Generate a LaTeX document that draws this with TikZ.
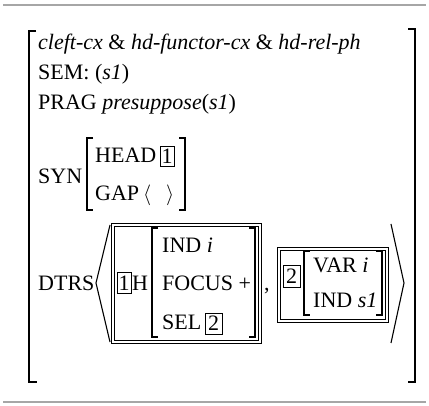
\documentclass[tikz,border=0pt]{standalone}
\usepackage{fontspec}
\setmainfont{Liberation Serif}
\tikzset{
  lbl/.style={anchor=base west, inner sep=0pt, font=\fontsize{22}{26}\selectfont},
  tagnum/.style={inner sep=0pt, font=\fontsize{22}{26}\selectfont},
  brk/.style={line width=1.1pt},
  rule/.style={line width=1.4pt, gray!70}
}
\begin{document}
\begin{tikzpicture}[x=1pt,y=-1pt]
\useasboundingbox (0,0) rectangle (429,406);
\draw[rule] (3,5) -- (426,5);
\draw[rule] (3,402) -- (426,402);
% outer brackets
\draw[brk] (36,31) -- (29,31) -- (29,382) -- (37,382);
\draw[brk] (408,29) -- (415,29) -- (415,382) -- (408,382);
\node[lbl] (type) at (38,50) {\textit{cleft-cx} \& \textit{hd-functor-cx} \& \textit{hd-rel-ph}};
\node[lbl] (sem) at (38,80) {SEM: (\textit{s1})};
\node[lbl] (prag) at (38,110) {PRAG \textit{presuppose}(\textit{s1})};
% SYN
\node[lbl] (syn) at (38,184) {SYN};
\draw[brk] (93,138) -- (87,138) -- (87,210) -- (93,210);
\draw[brk] (179,138) -- (185,138) -- (185,210) -- (179,210);
\node[lbl] (head) at (95,163) {HEAD};
\draw[line width=0.9pt] (160,146) rectangle (174,166);
\node[tagnum] (headtag) at (167,156) {1};
\node[lbl] (gap) at (95,201) {GAP};
\node[lbl] (gapl) at (143,201) {$\langle$};
\node[lbl] (gapr) at (166,201) {$\rangle$};
% DTRS
\node[lbl] (dtrs) at (38,291) {DTRS};
\draw[brk] (110,225) -- (96,283) -- (110,342);
\draw[brk] (391,224) -- (404,283) -- (391,343);
% first daughter
\draw[line width=0.9pt] (111,223) rectangle (261,343);
\draw[line width=0.9pt] (114,226) rectangle (258,340);
\draw[line width=0.9pt] (117,272) rectangle (131,293);
\node[tagnum] (dtagone) at (124,283) {1};
\node[lbl] (hd) at (132,291) {H};
\draw[brk] (158,228) -- (152,228) -- (152,337) -- (158,337);
\draw[brk] (249,228) -- (255,228) -- (255,337) -- (249,337);
\node[lbl] (ind) at (162,253) {IND \textit{i}};
\node[lbl] (focus) at (162,291) {FOCUS +};
\node[lbl] (sel) at (162,330) {SEL};
\draw[line width=0.9pt] (205,313) rectangle (222,334);
\node[tagnum] (seltag) at (213.5,323.5) {2};
\node[lbl] (comma) at (264,291) {,};
% second daughter
\draw[line width=0.9pt] (277,247) rectangle (388,322);
\draw[line width=0.9pt] (280,250) rectangle (385,319);
\draw[line width=0.9pt] (283,265) rectangle (300,287);
\node[tagnum] (dtagtwo) at (291.5,276) {2};
\draw[brk] (310,251) -- (304,251) -- (304,315) -- (310,315);
\draw[brk] (376,251) -- (382,251) -- (382,315) -- (376,315);
\node[lbl] (var) at (313,273) {VAR \textit{i}};
\node[lbl] (indtwo) at (313,308) {IND \textit{s1}};
\end{tikzpicture}
\end{document}
